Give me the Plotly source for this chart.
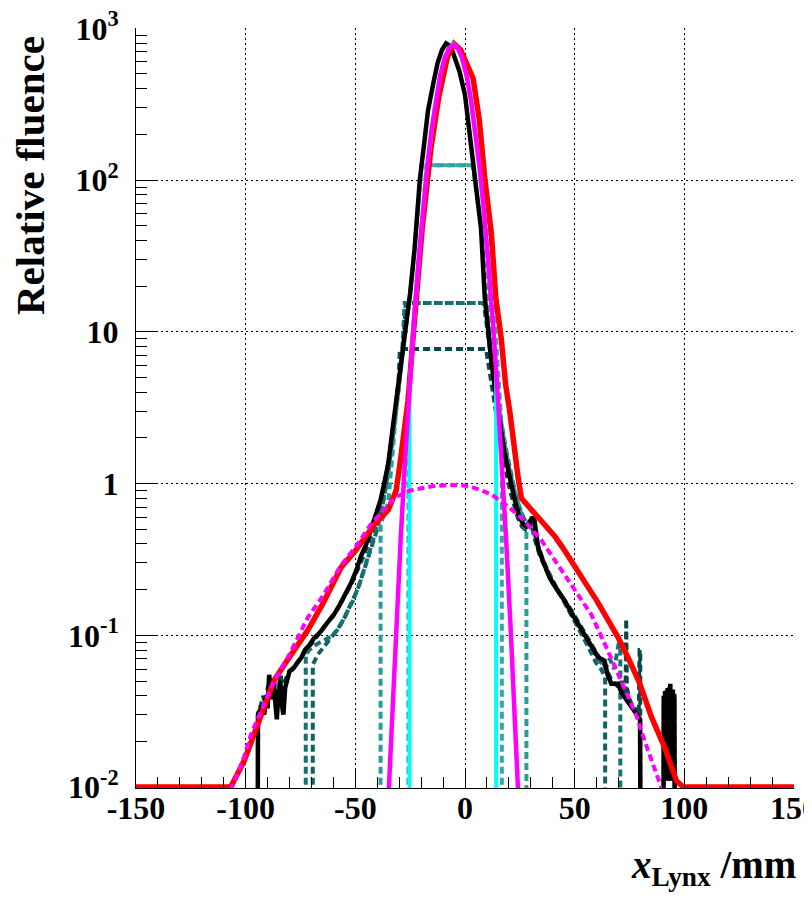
import plotly.graph_objects as go

# ---------------- data ----------------
red_x = [-150, -106.8, -100.6, -94.5, -86.9, -80, -71.7, -65, -56.5, -50, -41.2, -35, -31.4, -29.5, -26, -23, -19.5,
         -15.5, -12, -8, -5, -2, 0.5, 3.7, 6.5, 9, 12, 14, 16.5, 18.5, 20.4, 22.7, 24.2, 25.7, 30, 35, 40.9, 45,
         50, 55, 60, 65, 69.8, 75, 79.7, 85, 91.2, 96.4, 99.5, 150]
red_y = [0.01, 0.01, 0.015, 0.026, 0.051, 0.072, 0.108, 0.16, 0.28, 0.36, 0.54, 0.67, 0.9, 1.4, 3.5, 12, 48,
         163, 350, 650, 790, 720, 600, 467, 250, 103, 45, 17, 9.1, 4.5, 3.0, 1.5, 1.1, 0.8, 0.68, 0.56, 0.45, 0.37,
         0.29, 0.22, 0.17, 0.13, 0.097, 0.068, 0.048, 0.029, 0.018, 0.011, 0.01, 0.01]

black_x = [-94.6, -94.4, -93.5, -92.5, -91.5, -90.8, -90.0, -89.3, -88.6, -88.0, -87.2, -86.5, -85.8, -85.0,
           -84.2, -83.5, -82.8, -82.0, -81.0, -80.0, -78.5, -76.5, -74.5, -73.0, -71.0, -69.0, -66.0, -63.0,
           -60.0, -57.0, -54.0, -52.0, -49.5, -47.5, -45.0, -42.9, -40.5, -38.5, -37.0, -35.0, -33.0, -31.0,
           -29.0, -27.1, -25.0, -23.0, -20.6, -18.5, -16.9, -14.5, -12.5, -10.5, -8.6, -6.5, -4.5, -2.5, 0.0,
           2.8, 4.5, 5.9, 7.3, 9.0, 10.5, 12.0, 13.6, 15.0, 16.5, 18.0, 19.6, 21.0, 22.7, 24.5, 26.5, 28.0,
           29.5, 30.5, 31.7, 33.3, 35.5, 38.6, 42.0, 45.4, 48.0, 50.0, 53.0, 55.5, 57.6, 59.0, 60.6, 62.0,
           63.6, 65.0, 66.7, 68.3, 69.8, 71.3, 72.8, 74.5, 76.0, 77.4, 78.7, 79.8, 80.2,
           90.4, 90.6, 90.9, 91.2, 91.5, 91.8, 92.1, 92.4, 92.7, 93.0, 93.3, 93.6, 93.9, 94.2, 94.5, 94.8,
           95.1, 95.4, 95.7, 95.9]
black_y = [0.001, 0.03, 0.032, 0.034, 0.03, 0.04, 0.033, 0.055, 0.045, 0.038, 0.047, 0.036, 0.028, 0.042,
           0.05, 0.035, 0.03, 0.045, 0.052, 0.058, 0.06, 0.066, 0.072, 0.08, 0.086, 0.095, 0.105, 0.12,
           0.135, 0.16, 0.19, 0.22, 0.27, 0.33, 0.4, 0.5, 0.62, 0.78, 0.98, 1.35, 2.3, 3.8,
           6.0, 10, 18, 35, 100, 180, 285, 430, 590, 720, 795, 760, 640, 520, 364,
           170, 115, 80, 48, 17, 9.5, 6.4, 4.3, 3.0, 2.2, 1.6, 1.2, 1.0, 0.78, 0.62, 0.54, 0.52,
           0.55, 0.6, 0.57, 0.38, 0.31, 0.24, 0.2, 0.17, 0.145, 0.13, 0.11, 0.096, 0.087, 0.08, 0.072, 0.07,
           0.068, 0.055, 0.048, 0.048, 0.048, 0.042, 0.039, 0.036, 0.034, 0.032, 0.03, 0.028, 0.001,
           0.001, 0.04, 0.011, 0.043, 0.012, 0.041, 0.011, 0.045, 0.012, 0.042, 0.011, 0.048, 0.012, 0.043,
           0.011, 0.044, 0.012, 0.041, 0.011, 0.001]

magenta_x = [-35.3, -33.3, -31.3, -29.3, -27.3, -25.3, -23.3, -21.3, -19.3, -17.3, -15.3, -13.3, -11.3, -9.3,
             -7.3, -5.3, -3.3, -1.3, 0.7, 2.7, 4.7, 6.7, 8.7, 10.7, 12.7, 14.7, 16.7, 18.7, 20.7, 22.7, 24.7]
magenta_y = [0.0065, 0.029, 0.12, 0.44, 1.45, 4.3, 11.6, 28, 61, 120, 212, 339, 489, 634,
             740, 780, 740, 634, 489, 339, 212, 120, 61, 28, 11.6, 4.3, 1.45, 0.44, 0.12, 0.029, 0.0065]

cyan_x = [-25.3, -25.3, -23.3, -21.3, -19.3, -17.3, -15.3, -13.3, -11.3, -9.3, -7.3, -5.3, -3.3, -1.3, 0.7,
          2.7, 4.7, 6.7, 8.7, 10.7, 12.7, 14.2, 14.2]
cyan_y = [0.001, 4.3, 11.6, 28, 61, 120, 212, 339, 489, 634, 740, 790, 740, 634, 489,
          339, 212, 120, 61, 28, 11.6, 6.0, 0.001]

mdash_x = [-107, -105, -100.6, -97.7, -90, -86.7, -80, -71.7, -65, -56.5, -50, -42.9, -35, -32, -25, -15, -7,
           0, 5, 12, 20, 27, 35, 42.5, 50, 57.6, 65, 72.8, 78, 82, 86, 88, 90]
mdash_y = [0.0095, 0.011, 0.016, 0.022, 0.04, 0.051, 0.075, 0.131, 0.18, 0.29, 0.38, 0.54, 0.72, 0.81, 0.9,
           0.96, 0.98, 0.97, 0.93, 0.85, 0.7, 0.57, 0.42, 0.29, 0.2, 0.137, 0.08, 0.045, 0.03, 0.02, 0.014,
           0.0115, 0.0095]

t1_x = [-25.8, -25.8, -24.0, -22.0, -20.0, -18.0, -17.6, 6.8, 8.0, 10.0, 12.0, 14.0, 16.0, 16.8, 16.8]
t1_y = [0.001, 4.0, 8.5, 17, 40, 105, 125, 125, 95, 52, 25, 10, 3.2, 2.2, 0.001]

t2_x = [-38.5, -38.5, -37, -35, -33, -31, -29, -27, -25, -23, -21, -19.8, 3.5, 5, 7, 9, 11, 13, 15, 17, 19, 21,
        23, 25, 27, 28, 28]
t2_y = [0.001, 0.54, 0.62, 0.75, 1.6, 3.5, 6, 10, 18, 35, 80, 125, 125, 90, 55, 24, 11, 6, 3.5, 2.2, 1.5, 1.1,
        0.85, 0.65, 0.52, 0.49, 0.001]

m1_x = [-72.6, -72.6, -71, -69, -66, -63, -60, -57, -54, -51, -48, -45, -42, -39, -36, -34, -32, -30, -28.5,
        -27.5, 8.5, 9.5, 11, 12.5, 14, 16, 18, 20, 22, 24, 26, 28, 30, 32, 35, 38, 42, 46, 50, 54, 58, 61, 64,
        66, 68, 70, 70.8, 70.8]
m1_y = [0.001, 0.075, 0.08, 0.085, 0.09, 0.095, 0.1, 0.115, 0.14, 0.17, 0.22, 0.3, 0.42, 0.6, 0.95, 1.5, 2.6,
        4.5, 8, 15.5, 15.5, 12, 8, 5.5, 4, 2.8, 1.8, 1.3, 0.95, 0.75, 0.62, 0.55, 0.55, 0.45, 0.33, 0.26, 0.2,
        0.16, 0.125, 0.1, 0.08, 0.07, 0.06, 0.07, 0.06, 0.087, 0.087, 0.001]

m2_x = [-69.4, -69.4, -67, -64, -61, -58, -55, -52, -49, -46, -43, -40, -37, -35, -33, -31, -29, -27.8, -27,
        9.2, 10, 11.5, 13, 15, 17, 19, 21, 23, 25, 27, 29, 31, 33, 36, 40, 44, 48, 52, 56, 60, 62, 63.9, 63.9]
m2_y = [0.001, 0.064, 0.075, 0.085, 0.095, 0.11, 0.13, 0.16, 0.2, 0.27, 0.36, 0.5, 0.8, 1.2, 2.0, 3.4, 6, 10,
        15.5, 15.5, 12, 8.5, 5.8, 3.6, 2.3, 1.6, 1.15, 0.85, 0.68, 0.58, 0.56, 0.5, 0.4, 0.3, 0.23, 0.18, 0.14,
        0.11, 0.085, 0.065, 0.06, 0.053, 0.001]

d_x = [-94.5, -94.3, -93, -92, -91, -90, -89, -88, -87, -86, -85, -84, -83, -82, -81, -80, -78, -76, -74, -72,
       -69, -66, -62, -58, -55, -52, -49, -46, -43, -40, -38, -36, -34, -32, -30.2, -29.7, 9.6, 10.5, 12, 13.5,
       15, 16.5, 18, 19.5, 21, 22.5, 24, 26, 27.5, 29, 30.5, 32, 34, 37, 40, 44, 48, 52, 56, 59, 61.5, 63, 65,
       67, 69, 70.5, 71.5, 72.5, 73.2, 73.5, 73.8, 75, 76.5, 78, 79.2, 79.6, 79.9, 79.9,
       90.4, 90.7, 91.0, 91.3, 91.6, 91.9, 92.2, 92.5, 92.8, 93.1, 93.4, 93.7, 94.0, 94.3, 94.6, 94.9,
       95.2, 95.5, 95.8]
d_y = [0.001, 0.031, 0.035, 0.04, 0.033, 0.045, 0.05, 0.04, 0.052, 0.035, 0.045, 0.055, 0.04, 0.05, 0.055,
       0.058, 0.062, 0.068, 0.074, 0.082, 0.092, 0.105, 0.125, 0.15, 0.18, 0.215, 0.27, 0.34, 0.45, 0.6, 0.8,
       1.1, 1.7, 2.8, 5.0, 7.7, 7.7, 6.5, 4.8, 3.4, 2.4, 1.8, 1.35, 1.05, 0.85, 0.7, 0.6, 0.52, 0.5, 0.56,
       0.52, 0.42, 0.34, 0.27, 0.22, 0.18, 0.15, 0.12, 0.095, 0.08, 0.07, 0.066, 0.058, 0.05, 0.047, 0.045,
       0.05, 0.042, 0.04, 0.128, 0.045, 0.038, 0.034, 0.032, 0.03, 0.08, 0.08, 0.001,
       0.001, 0.038, 0.012, 0.04, 0.011, 0.044, 0.012, 0.041, 0.011, 0.046, 0.012, 0.042, 0.011, 0.043,
       0.012, 0.04, 0.011, 0.039, 0.001]

x_tick_vals = [-150, -100, -50, 0, 50, 100, 150]
x_tick_text = ["-150", "-100", "-50", "0", "50", "100", "150"]
y_tick_vals = [0.01, 0.1, 1, 10, 100, 1000]
y_tick_text = ["10<sup>-2</sup>", "10<sup>-1</sup>", "1", "10", "10<sup>2</sup>", "10<sup>3</sup>"]
y_minor_vals = [m * 10 ** e for e in range(-2, 3) for m in range(2, 10)]
x_minor_vals = list(range(-140, 150, 10))

# ---------------- figure ----------------
FONT = "Liberation Serif"
fig = go.Figure()

dash_style = "7px,4px"


def add(x, y, color, width, dash="solid"):
    fig.add_trace(go.Scatter(x=x, y=y, mode="lines", showlegend=False, hoverinfo="skip",
                             line=dict(color=color, width=width, dash=dash)))


add(d_x, d_y, "#0a4848", 4, dash_style)
add(m2_x, m2_y, "#116262", 4, dash_style)
add(m1_x, m1_y, "#177272", 4, dash_style)
add(t2_x, t2_y, "#2a9c9c", 4, dash_style)
add(t1_x, t1_y, "#32a8a8", 4, dash_style)
add(black_x, black_y, "#000000", 4.5)
add(red_x, red_y, "#ff0000", 5.5)
add(cyan_x, cyan_y, "#00ffff", 4)
add(magenta_x, magenta_y, "#ff00ff", 4.5)
add(mdash_x, mdash_y, "#ff00ff", 4, dash_style)

fig.update_layout(
    width=812, height=905,
    margin=dict(l=128, r=26, t=20, b=125, autoexpand=False),
    paper_bgcolor="white", plot_bgcolor="white",
    font=dict(family=FONT, color="black"),
)
fig.update_xaxes(
    range=[-150, 150], tickmode="array", tickvals=x_tick_vals, ticktext=x_tick_text,
    tickfont=dict(family=FONT, size=32, weight="bold", color="black"),
    ticks="inside", ticklen=20, tickwidth=1, tickcolor="black", ticklabelstandoff=-8,
    ticklabeloverflow="allow", automargin=False,
    showline=True, linecolor="black", linewidth=1, zeroline=False, mirror=False,
    showgrid=True, gridcolor="black", griddash="2px,3px", gridwidth=1,
    minor=dict(tickmode="array", tickvals=x_minor_vals, ticks="inside", ticklen=11, tickcolor="black",
               showgrid=False),
)
fig.update_yaxes(
    type="log", range=[-2.006, 3.002], tickmode="array", tickvals=y_tick_vals, ticktext=y_tick_text,
    tickfont=dict(family=FONT, size=32, weight="bold", color="black"),
    ticks="inside", ticklen=20, tickwidth=1, tickcolor="black", ticklabelstandoff=10,
    ticklabeloverflow="allow", automargin=False,
    showline=True, linecolor="black", linewidth=1, zeroline=False, mirror=False,
    showgrid=True, gridcolor="black", griddash="2px,3px", gridwidth=1,
    minor=dict(tickmode="array", tickvals=y_minor_vals, ticks="inside", ticklen=11, tickcolor="black",
               showgrid=False),
)

fig.add_annotation(text="<b>Relative fluence</b>", textangle=-90, xref="paper", yref="paper",
                   x=-0.162, y=0.992, xanchor="center", yanchor="top", showarrow=False,
                   font=dict(family=FONT, size=41, color="black"))
fig.add_annotation(text="<b><i>x</i><sub>Lynx</sub> /mm</b>", xref="paper", yref="paper",
                   x=1.006, y=-0.105, xanchor="right", yanchor="middle", showarrow=False,
                   font=dict(family=FONT, size=39, color="black"))

fig.write_html("out.html")
